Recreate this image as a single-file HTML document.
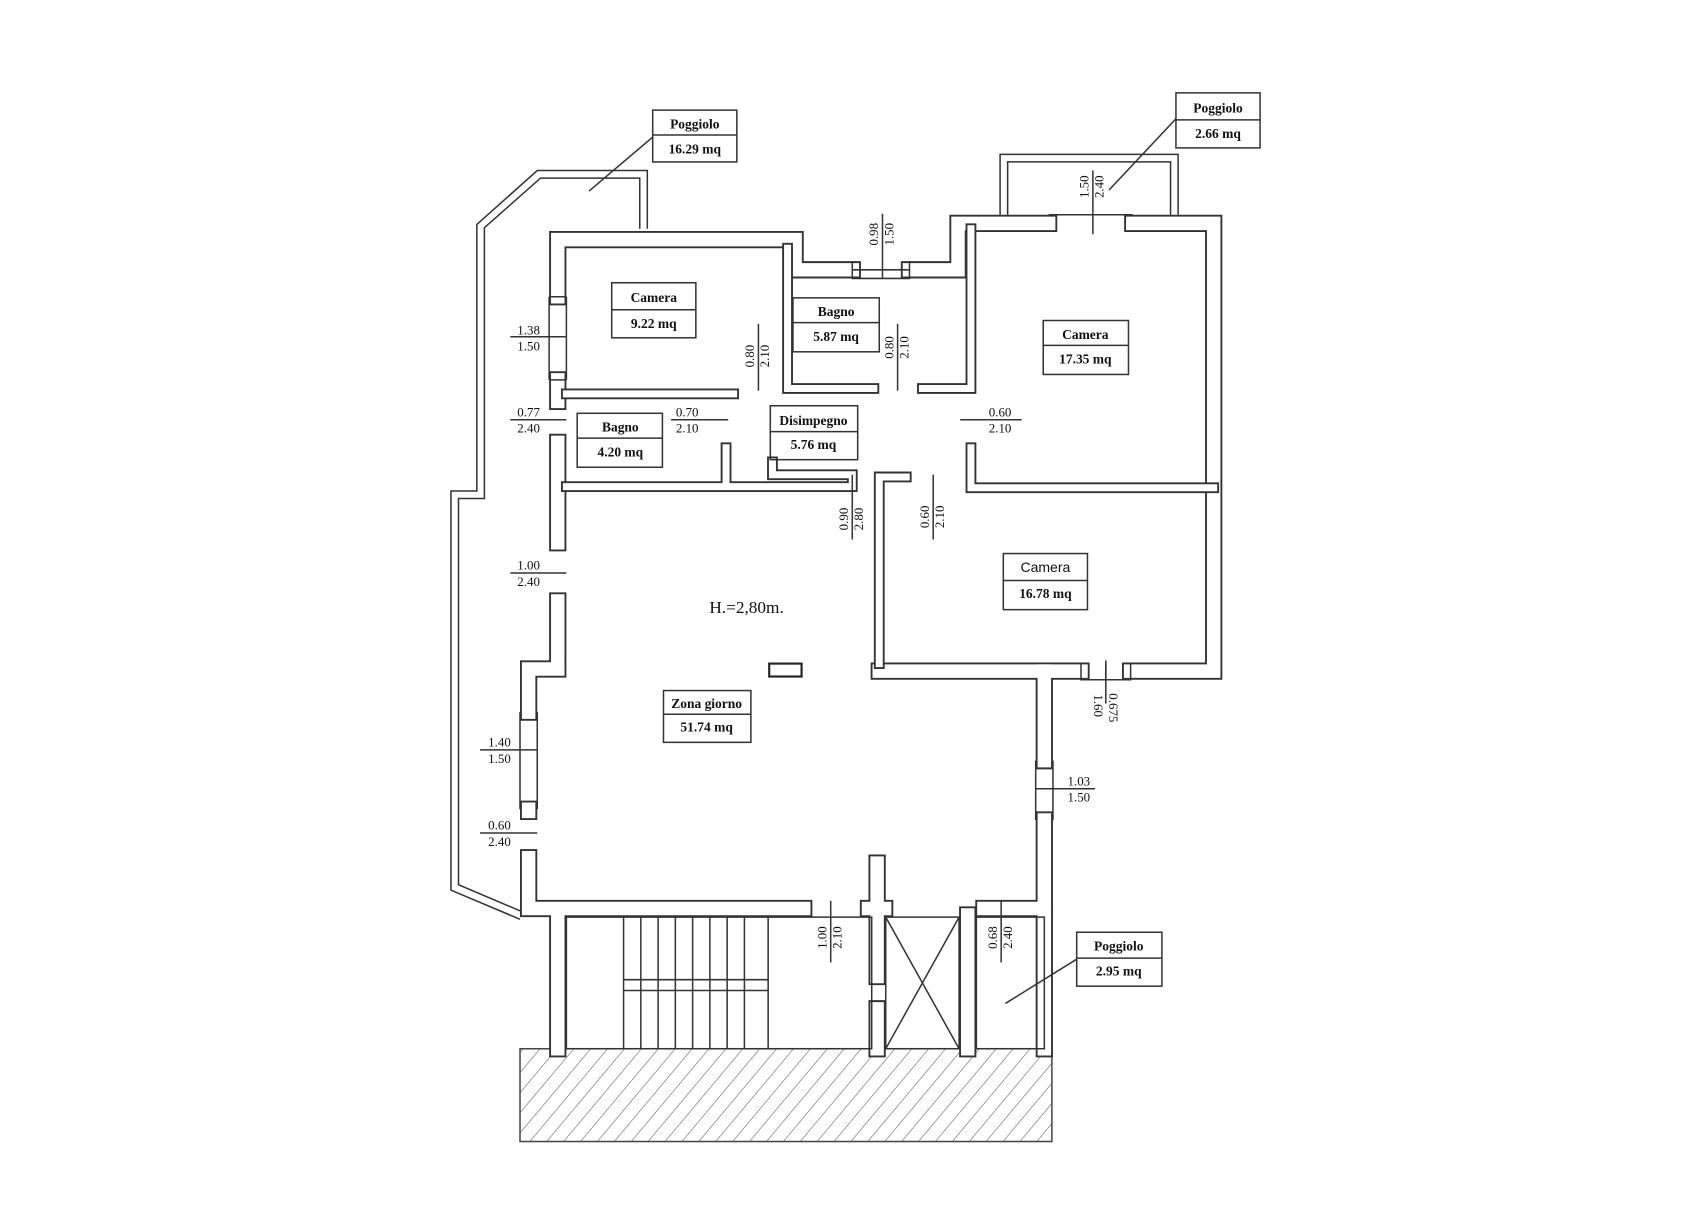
<!DOCTYPE html>
<html><head><meta charset="utf-8"><style>
html,body{margin:0;padding:0;background:#fff;}
svg{display:block}
.w{fill:none;stroke:#333;stroke-width:16;stroke-linecap:square;stroke-linejoin:miter}
.wi{fill:none;stroke:#fff;stroke-width:12.5;stroke-linecap:square;stroke-linejoin:miter}
.t{fill:none;stroke:#333;stroke-width:10;stroke-linecap:square}
.ti{fill:none;stroke:#fff;stroke-width:6.5;stroke-linecap:square}
.l{fill:none;stroke:#333;stroke-width:1.4}
.lb{font-family:"Liberation Serif",serif;font-weight:bold;font-size:12.5px;fill:#111;text-anchor:middle}
.d{font-family:"Liberation Serif",serif;font-size:12px;fill:#111;text-anchor:middle}
</style></head><body>
<svg width="1683" height="1229" viewBox="0 0 1560 1139" xmlns="http://www.w3.org/2000/svg">
<defs>
<pattern id="h" width="12" height="12" patternUnits="userSpaceOnUse" patternTransform="rotate(40)">
<line x1="0" y1="0" x2="0" y2="12" stroke="#555" stroke-width="1"/>
</pattern>
</defs>
<rect x="482" y="972" width="493" height="86" fill="url(#h)" stroke="#444" stroke-width="1.4"/>

<path class="l" d="M600,212 V158 H498 L442,208 V455 H418 V825 L482,852"/>
<path class="l" d="M593,212 V165 H501 L449,211 V462 H425 V820 L484,845"/>
<path class="l" d="M927,199 V143 H1092 V199"/>
<path class="l" d="M934,199 V150 H1085 V199"/>

<g>
<path class="w" d="M517,275 V222 H737 V250 H790"/>
<path class="w" d="M843,250 H888 V207 H972"/>
<path class="w" d="M1050,207 H1125 V622 H1048"/>
<path class="w" d="M1002,622 H815"/>
<path class="w" d="M968,622 V705"/>
<path class="w" d="M968,760 V842 H912"/>
<path class="w" d="M745,842 H490 V795"/>
<path class="w" d="M490,752 V750"/>
<path class="w" d="M490,660 V620 H517 V557"/>
<path class="w" d="M517,352 V372"/>
<path class="w" d="M517,410 V503"/>
<path class="w" d="M517,848 V972"/>
<path class="w" d="M813,842 V800"/>
<path class="w" d="M805,842 H820"/>
<path class="w" d="M813,848 V905 M813,935 V972"/>
<path class="w" d="M897,848 V972"/>
<path class="w" d="M968,848 V972"/>
</g>
<g>
<path class="wi" d="M517,275 V222 H737 V250 H790"/>
<path class="wi" d="M843,250 H888 V207 H972"/>
<path class="wi" d="M1050,207 H1125 V622 H1048"/>
<path class="wi" d="M1002,622 H815"/>
<path class="wi" d="M968,622 V705"/>
<path class="wi" d="M968,760 V842 H912"/>
<path class="wi" d="M745,842 H490 V795"/>
<path class="wi" d="M490,752 V750"/>
<path class="wi" d="M490,660 V620 H517 V557"/>
<path class="wi" d="M517,352 V372"/>
<path class="wi" d="M517,410 V503"/>
<path class="wi" d="M517,848 V972"/>
<path class="wi" d="M813,842 V800"/>
<path class="wi" d="M805,842 H820"/>
<path class="wi" d="M813,848 V905 M813,935 V972"/>
<path class="wi" d="M897,848 V972"/>
<path class="wi" d="M968,848 V972"/>
</g>
<g>
<path class="t" d="M525,365 H680"/>
<path class="t" d="M730,230 V360 H810"/>
<path class="t" d="M855,360 H900 V212"/>
<path class="t" d="M900,415 V452 H1125"/>
<path class="t" d="M840,442 H815 V615"/>
<path class="t" d="M673,415 V450"/>
<path class="t" d="M525,451 H790 V440 H716 V428"/>
</g>
<g>
<path class="ti" d="M525,365 H680"/>
<path class="ti" d="M730,230 V360 H810"/>
<path class="ti" d="M855,360 H900 V212"/>
<path class="ti" d="M900,415 V452 H1125"/>
<path class="ti" d="M840,442 H815 V615"/>
<path class="ti" d="M673,415 V450"/>
<path class="ti" d="M525,451 H790 V440 H716 V428"/>
</g>

<g class="l">
<path d="M509,275 V352 M525,275 V352 M509,352 H525 M509,275 H525"/>
<path d="M482,660 V750 M498,660 V750"/>
<path d="M790,242 V258 H843 V242 M790,250 H843"/>
<path d="M1002,614 V630 H1048 V614 M1025,614 V630"/>
<path d="M960,705 V760 M976,705 V760"/>
<path d="M972,199 H1050"/>
</g>

<rect x="525" y="850" width="283" height="122" class="l"/>
<g class="l">
<path d="M578,850 V972 M594,850 V972 M610,850 V972 M626,850 V972 M642,850 V972 M658,850 V972 M674,850 V972 M690,850 V972 M712,850 V972"/>
<path d="M578,908 H712 M578,918 H712"/>
</g>
<rect x="821" y="850" width="68" height="122" class="l"/>
<path class="l" d="M821,850 L889,972 M889,850 L821,972"/>
<rect x="905" y="850" width="63" height="122" class="l"/>
<rect x="713" y="615" width="30" height="12" fill="none" stroke="#222" stroke-width="2"/>

<g class="l" fill="none">
<rect x="605" y="102" width="78" height="48"/><line x1="605" y1="125" x2="683" y2="125"/>
<rect x="1090" y="86" width="78" height="51"/><line x1="1090" y1="111" x2="1168" y2="111"/>
<rect x="567" y="262" width="78" height="51"/><line x1="567" y1="287" x2="645" y2="287"/>
<rect x="735" y="276" width="80" height="50"/><line x1="735" y1="299" x2="815" y2="299"/>
<rect x="967" y="297" width="79" height="50"/><line x1="967" y1="320" x2="1046" y2="320"/>
<rect x="535" y="383" width="79" height="50"/><line x1="535" y1="406" x2="614" y2="406"/>
<rect x="714" y="376" width="81" height="50"/><line x1="714" y1="400" x2="795" y2="400"/>
<rect x="930" y="513" width="78" height="52"/><line x1="930" y1="538" x2="1008" y2="538"/>
<rect x="615" y="640" width="81" height="48"/><line x1="615" y1="662" x2="696" y2="662"/>
<rect x="998" y="864" width="79" height="50"/><line x1="998" y1="888" x2="1077" y2="888"/>
<path d="M605,127 L546,177 M1090,110 L1028,176 M998,889 L932,930"/>
</g>
<g class="lb">
<text x="644" y="119">Poggiolo</text><text x="644" y="142">16.29  mq</text>
<text x="1129" y="104">Poggiolo</text><text x="1129" y="128">2.66  mq</text>
<text x="606" y="280">Camera</text><text x="606" y="304">9.22  mq</text>
<text x="775" y="293">Bagno</text><text x="775" y="316">5.87  mq</text>
<text x="1006" y="314">Camera</text><text x="1006" y="337">17.35  mq</text>
<text x="575" y="400">Bagno</text><text x="575" y="423">4.20  mq</text>
<text x="754" y="394">Disimpegno</text><text x="754" y="416">5.76  mq</text>
<text x="969" y="530" style="font-family:'Liberation Sans',sans-serif;font-weight:normal;font-size:13px">Camera</text><text x="969" y="554">16.78  mq</text>
<text x="655" y="656">Zona giorno</text><text x="655" y="678">51.74  mq</text>
<text x="1037" y="881">Poggiolo</text><text x="1037" y="904">2.95  mq</text>
</g>
<text x="692" y="568" class="d" style="font-size:16px">H.=2,80m.</text>

<g class="l">
<path d="M473,312 H525 M473,389 H525 M622,389 H675 M890,389 H947 M473,531 H525 M445,695 H498 M445,772 H498 M960,731 H1015"/>
</g>
<g class="d">
<text x="490" y="310">1.38</text><text x="490" y="325">1.50</text>
<text x="490" y="386">0.77</text><text x="490" y="401">2.40</text>
<text x="637" y="386">0.70</text><text x="637" y="401">2.10</text>
<text x="927" y="386">0.60</text><text x="927" y="401">2.10</text>
<text x="490" y="528">1.00</text><text x="490" y="543">2.40</text>
<text x="463" y="692">1.40</text><text x="463" y="707">1.50</text>
<text x="463" y="769">0.60</text><text x="463" y="784">2.40</text>
<text x="1000" y="728">1.03</text><text x="1000" y="743">1.50</text>
</g>
<g class="l">
<path d="M703,300 V362 M832,300 V362 M818,198 V258 M1013,158 V217 M790,440 V500 M865,440 V500 M770,835 V892 M928,835 V892 M1025,612 V652"/>
</g>
<g class="d">
<text transform="translate(699,330) rotate(-90)">0.80</text><text transform="translate(713,330) rotate(-90)">2.10</text>
<text transform="translate(828,322) rotate(-90)">0.80</text><text transform="translate(842,322) rotate(-90)">2.10</text>
<text transform="translate(814,217) rotate(-90)">0.98</text><text transform="translate(828,217) rotate(-90)">1.50</text>
<text transform="translate(1009,173) rotate(-90)">1.50</text><text transform="translate(1023,173) rotate(-90)">2.40</text>
<text transform="translate(786,481) rotate(-90)">0.90</text><text transform="translate(800,481) rotate(-90)">2.80</text>
<text transform="translate(861,479) rotate(-90)">0.60</text><text transform="translate(875,479) rotate(-90)">2.10</text>
<text transform="translate(766,869) rotate(-90)">1.00</text><text transform="translate(780,869) rotate(-90)">2.10</text>
<text transform="translate(924,869) rotate(-90)">0.68</text><text transform="translate(938,869) rotate(-90)">2.40</text>
<text transform="translate(1014,654) rotate(90)">1.60</text><text transform="translate(1028,656) rotate(90)">0.675</text>
</g>
</svg>
</body></html>
